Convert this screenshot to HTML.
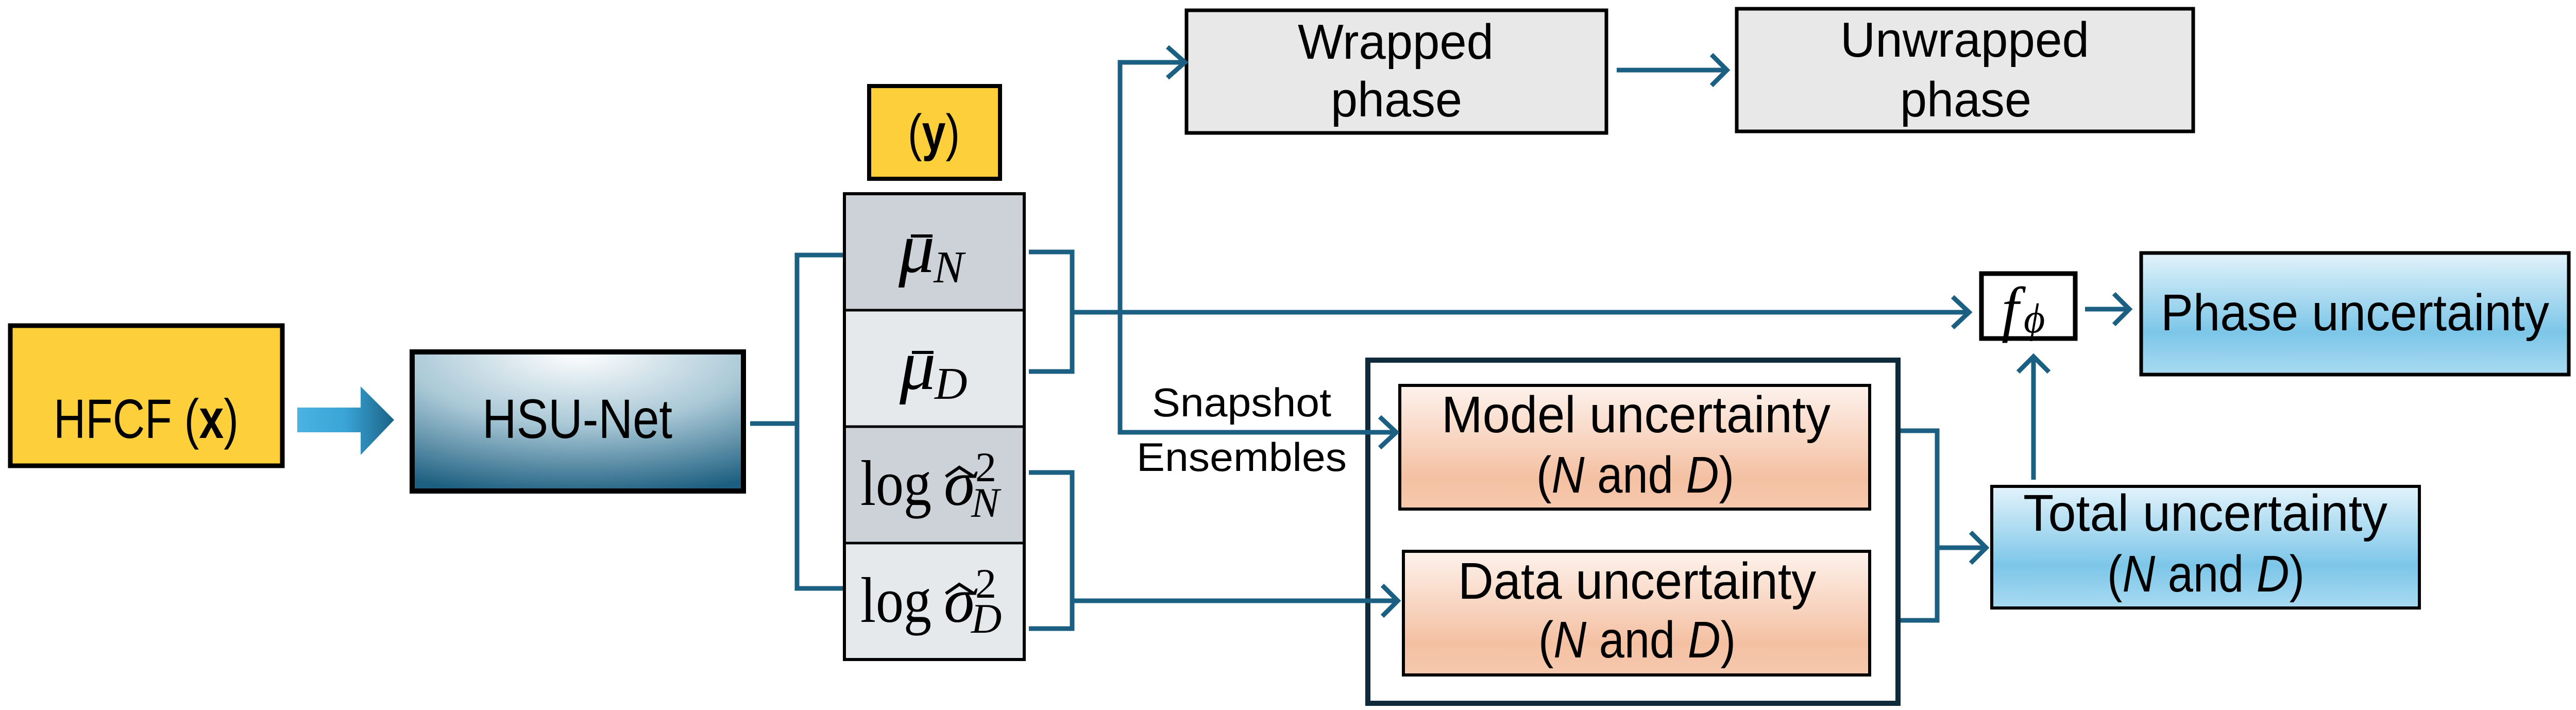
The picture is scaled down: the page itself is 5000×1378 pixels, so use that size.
<!DOCTYPE html>
<html><head><meta charset="utf-8"><style>html,body{margin:0;padding:0;background:#fff}svg{display:block}</style></head>
<body>
<svg width="5000" height="1378" viewBox="0 0 5000 1378" xmlns="http://www.w3.org/2000/svg">
<defs>
<radialGradient id="hsu" cx="0.5" cy="0" r="1.05" fx="0.5" fy="0">
<stop offset="0" stop-color="#ffffff"/><stop offset="0.5" stop-color="#a9c8d6"/><stop offset="1" stop-color="#1d5f80"/>
</radialGradient>
<linearGradient id="blue" x1="0" y1="0" x2="0" y2="1">
<stop offset="0" stop-color="#e3f3fb"/><stop offset="0.65" stop-color="#7cc6e8"/><stop offset="1" stop-color="#a9daf1"/>
</linearGradient>
<linearGradient id="orange" x1="0" y1="0" x2="0" y2="1">
<stop offset="0" stop-color="#fdf2ec"/><stop offset="0.75" stop-color="#f4c0a2"/><stop offset="1" stop-color="#f6c9ae"/>
</linearGradient>
<linearGradient id="barrow" x1="0" y1="0" x2="1" y2="0">
<stop offset="0" stop-color="#4ab3e3"/><stop offset="0.5" stop-color="#3aa4d6"/><stop offset="1" stop-color="#1a6287"/>
</linearGradient>
</defs>

<g font-family="'Liberation Sans', sans-serif" fill="#000">
<rect x="20" y="632" width="528" height="272" fill="#fdd03b" stroke="#000" stroke-width="9"/>
<text x="104" y="850" font-size="108" textLength="359" lengthAdjust="spacingAndGlyphs">HFCF (<tspan font-weight="bold">x</tspan>)</text>
<polygon points="577,791 700,791 700,750 765,815 700,883 700,839 577,839" fill="url(#barrow)"/>
<rect x="800" y="683" width="643" height="270" fill="url(#hsu)" stroke="#000" stroke-width="10"/>
<text x="936" y="850" font-size="108" textLength="369" lengthAdjust="spacingAndGlyphs">HSU-Net</text>
<rect x="1687" y="167" width="254" height="180" fill="#fdd03b" stroke="#000" stroke-width="8"/>
<text x="1762" y="292" font-size="100" textLength="101" lengthAdjust="spacingAndGlyphs">(<tspan font-weight="bold">y</tspan>)</text>
<rect x="1639" y="376" width="349" height="226" fill="#cdd2d9"/>
<rect x="1639" y="602" width="349" height="226" fill="#e5e9ec"/>
<rect x="1639" y="828" width="349" height="226" fill="#cdd2d9"/>
<rect x="1639" y="1054" width="349" height="226" fill="#e5e9ec"/>
<rect x="1639" y="376" width="349" height="904" fill="none" stroke="#000" stroke-width="6"/>
<line x1="1639" y1="602" x2="1988" y2="602" stroke="#000" stroke-width="5"/>
<line x1="1639" y1="828" x2="1988" y2="828" stroke="#000" stroke-width="5"/>
<line x1="1639" y1="1054" x2="1988" y2="1054" stroke="#000" stroke-width="5"/>
<g font-family="'Liberation Serif', serif">
<text x="1744" y="528" font-size="140" font-style="italic">μ</text>
<line x1="1768" y1="458" x2="1810" y2="458" stroke="#000" stroke-width="6"/>
<text x="1812" y="548" font-size="88" font-style="italic">N</text>
<text x="1746" y="755" font-size="140" font-style="italic">μ</text>
<line x1="1770" y1="684" x2="1812" y2="684" stroke="#000" stroke-width="6"/>
<text x="1814" y="774" font-size="88" font-style="italic">D</text>
<text x="1670" y="980" font-size="125" textLength="138" lengthAdjust="spacingAndGlyphs">log</text>
<text x="1832" y="980" font-size="125" font-style="italic">σ</text>
<polyline points="1836,925 1862,907 1890,925" fill="none" stroke="#000" stroke-width="6"/>
<text x="1893" y="934" font-size="82">2</text>
<text x="1885" y="1003" font-size="82" font-style="italic">N</text>
<text x="1670" y="1207" font-size="125" textLength="138" lengthAdjust="spacingAndGlyphs">log</text>
<text x="1832" y="1207" font-size="125" font-style="italic">σ</text>
<polyline points="1836,1152 1862,1134 1890,1152" fill="none" stroke="#000" stroke-width="6"/>
<text x="1893" y="1160" font-size="82">2</text>
<text x="1885" y="1228" font-size="82" font-style="italic">D</text>
</g>

<rect x="2303" y="20" width="815" height="238" fill="#e8e8e8" stroke="#000" stroke-width="7"/>
<text x="2519" y="114" font-size="96" textLength="380" lengthAdjust="spacingAndGlyphs">Wrapped</text>
<text x="2583" y="226" font-size="96" textLength="255" lengthAdjust="spacingAndGlyphs">phase</text>
<rect x="3371" y="17" width="886" height="238" fill="#e8e8e8" stroke="#000" stroke-width="7"/>
<text x="3572" y="110" font-size="96" textLength="483" lengthAdjust="spacingAndGlyphs">Unwrapped</text>
<text x="3688" y="226" font-size="96" textLength="255" lengthAdjust="spacingAndGlyphs">phase</text>

<rect x="3846" y="531" width="182" height="126" fill="#fff" stroke="#000" stroke-width="9"/>
<text x="3885" y="640" font-family="'Liberation Serif', serif" font-size="120" font-style="italic">f</text>
<text x="3928" y="645" font-family="'Liberation Serif', serif" font-size="80" font-style="italic">ϕ</text>

<rect x="4156" y="491" width="830" height="236" fill="url(#blue)" stroke="#000" stroke-width="7"/>
<text x="4194" y="641" font-size="100" textLength="754" lengthAdjust="spacingAndGlyphs">Phase uncertainty</text>

<rect x="2655" y="699" width="1029" height="666" fill="none" stroke="#0f2a3a" stroke-width="10"/>
<rect x="2717" y="748" width="912" height="240" fill="url(#orange)" stroke="#000" stroke-width="6"/>
<text x="2798" y="839" font-size="100" textLength="755" lengthAdjust="spacingAndGlyphs">Model uncertainty</text>
<text x="2982" y="956" font-size="100" textLength="384" lengthAdjust="spacingAndGlyphs">(<tspan font-style="italic">N</tspan> and <tspan font-style="italic">D</tspan>)</text>
<rect x="2724" y="1070" width="905" height="240" fill="url(#orange)" stroke="#000" stroke-width="6"/>
<text x="2830" y="1162" font-size="100" textLength="695" lengthAdjust="spacingAndGlyphs">Data uncertainty</text>
<text x="2986" y="1276" font-size="100" textLength="383" lengthAdjust="spacingAndGlyphs">(<tspan font-style="italic">N</tspan> and <tspan font-style="italic">D</tspan>)</text>

<rect x="3866" y="944" width="830" height="236" fill="url(#blue)" stroke="#000" stroke-width="6"/>
<text x="3927" y="1030" font-size="100" textLength="707" lengthAdjust="spacingAndGlyphs">Total uncertainty</text>
<text x="4090" y="1148" font-size="100" textLength="383" lengthAdjust="spacingAndGlyphs">(<tspan font-style="italic">N</tspan> and <tspan font-style="italic">D</tspan>)</text>

<text x="2236" y="808" font-size="78" textLength="348" lengthAdjust="spacingAndGlyphs">Snapshot</text>
<text x="2206" y="914" font-size="78" textLength="408" lengthAdjust="spacingAndGlyphs">Ensembles</text>
</g>

<g fill="none" stroke="#1b5f82" stroke-width="9">
<polyline points="1456,822 1547,822"/>
<polyline points="1636,495 1547,495 1547,1142 1636,1142"/>
<polyline points="1997,489 2081,489 2081,721 1997,721"/>
<line x1="2081" y1="606" x2="3822" y2="606"/>
<polyline points="3790,576 3822,606 3790,636"/>
<polyline points="2174,606 2174,121 2300,121"/>
<polyline points="2266,91 2300,121 2266,151"/>
<polyline points="2174,606 2174,839 2710,839"/>
<polyline points="2678,809 2710,839 2678,869"/>
<line x1="3138" y1="136" x2="3352" y2="136"/>
<polyline points="3322,106 3352,136 3322,166"/>
<polyline points="1997,917 2081,917 2081,1220 1997,1220"/>
<line x1="2081" y1="1166" x2="2713" y2="1166"/>
<polyline points="2683,1136 2713,1166 2683,1196"/>
<polyline points="3689,836 3760,836 3760,1204 3689,1204"/>
<line x1="3760" y1="1063" x2="3855" y2="1063"/>
<polyline points="3825,1033 3855,1063 3825,1093"/>
<line x1="3947" y1="931" x2="3947" y2="692"/>
<polyline points="3917,722 3947,692 3977,722"/>
<line x1="4047" y1="600" x2="4133" y2="600"/>
<polyline points="4103,570 4133,600 4103,630"/>
</g>
</svg>
</body></html>
